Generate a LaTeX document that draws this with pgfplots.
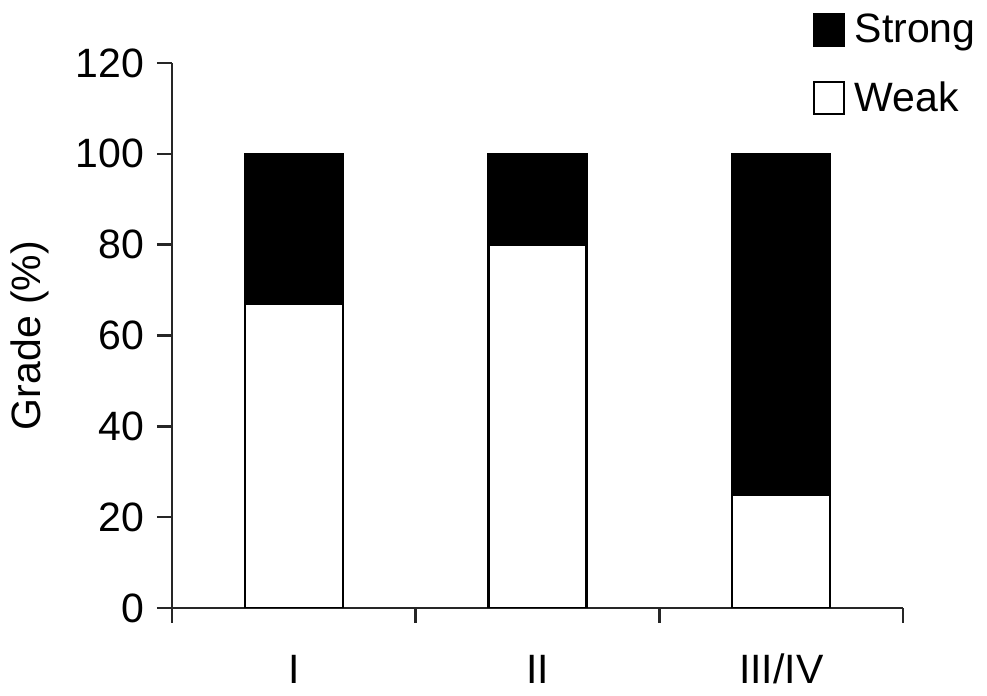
\documentclass[border=0pt]{standalone}
\usepackage{pgfplots}
\pgfplotsset{compat=1.18}
\usepackage{fontspec}
\setmainfont{Liberation Sans}

\begin{document}
\begin{tikzpicture}
\begin{axis}[
    scale only axis,
    width=365.5pt, height=272.5pt,
    ybar stacked,
    bar width=49pt,
    xmin=-0.5, xmax=2.5,
    ymin=0, ymax=120,
    ytick={0,20,...,120},
    xtick={-0.5,0.5,1.5,2.5},
    x tick label as interval,
    xticklabels={I,II,III/IV},
    tick style={line width=1.2pt, color=black!85},
    tick align=outside,
    major tick length=7.5pt,
    axis x line*=bottom, axis y line*=left,
    axis line style={line width=1.2pt, color=black!85, -},
    font=\fontsize{20.5}{24}\selectfont,
    /pgf/number format/assume math mode=true,
    xticklabel style={anchor=base, yshift=-30.5pt},
    yticklabel style={xshift=-3pt},
    ylabel={Grade (\%)},
    ylabel style={at={(axis description cs:-0.195,0.5)}, anchor=center},
    legend style={draw=none, fill=none, at={(axis description cs:0.876,1.098)}, anchor=north west,
        row sep=14pt, inner sep=0pt, cells={anchor=west},
        /tikz/every odd column/.append style={column sep=3pt}},
    reverse legend,
    legend image code/.code={\draw[#1, line width=1pt] (0pt,-8pt) rectangle (15pt,8pt);},
]
\addplot[fill=white, draw=black, line width=1.2pt] coordinates {(0,67) (1,80) (2,25)};
\addlegendentry{Weak}
\addplot[fill=black, draw=black, line width=1.2pt] coordinates {(0,33) (1,20) (2,75)};
\addlegendentry{Strong}
\end{axis}
\path (-86pt,-44pt) rectangle (407.5pt,304pt);
\end{tikzpicture}
\end{document}
